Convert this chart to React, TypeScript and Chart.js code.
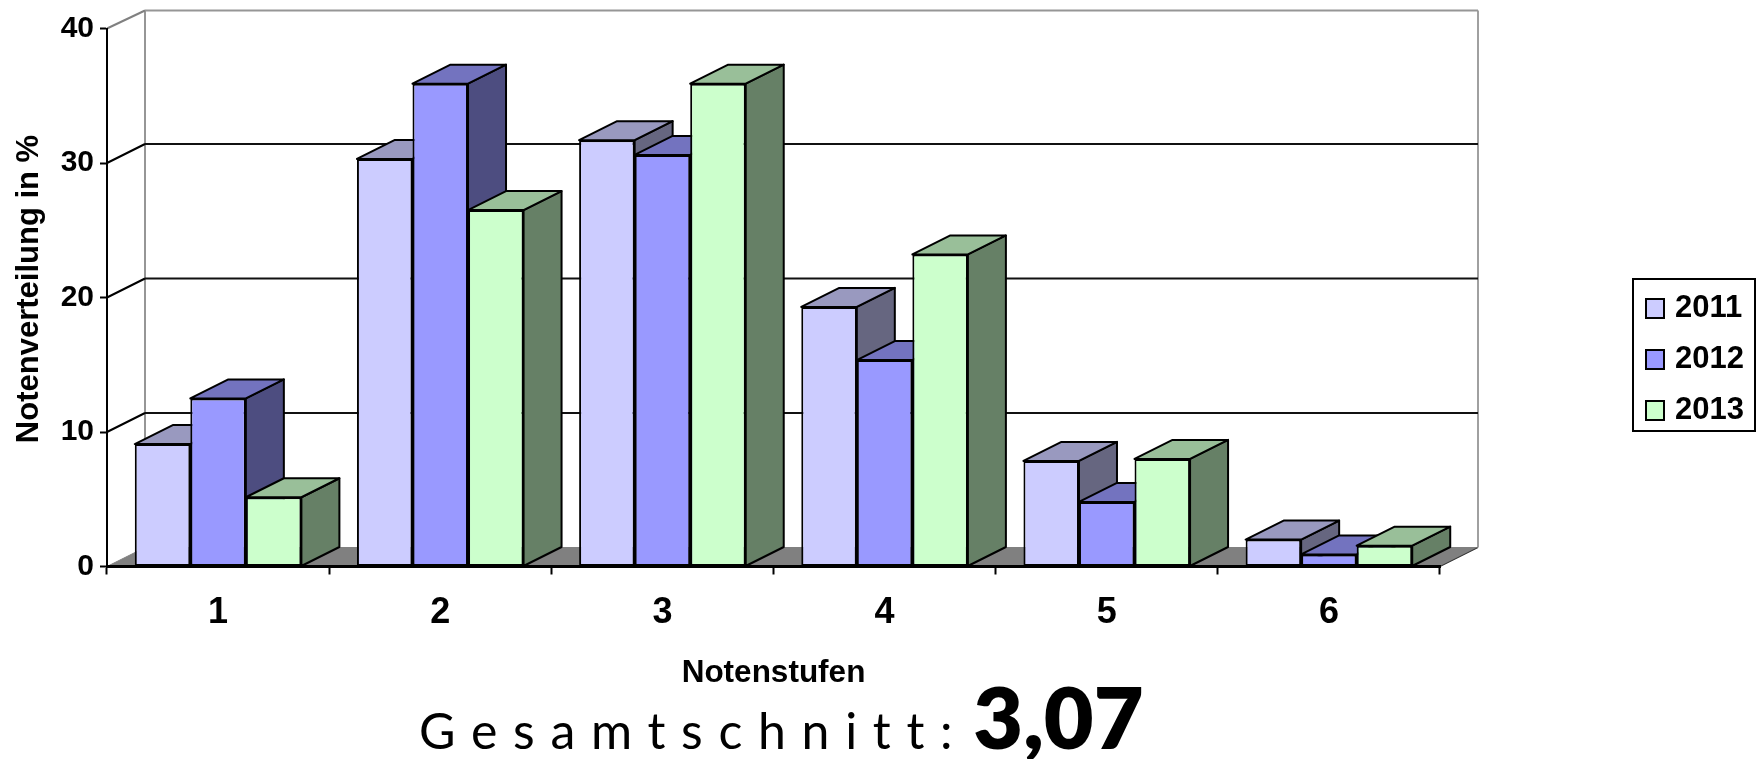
import React, { useEffect, useRef } from "react";
import { Chart, registerables } from "chart.js";

Chart.register(...registerables);

const categories = ["1", "2", "3", "4", "5", "6"];
const seriesNames = ["2011", "2012", "2013"];
const values2011 = [9.1, 30.3, 31.7, 19.3, 7.85, 2.0];
const values2012 = [12.5, 35.9, 30.6, 15.35, 4.8, 0.9];
const values2013 = [5.15, 26.5, 35.9, 23.2, 8.0, 1.55];
const yTicks = [0, 10, 20, 30, 40];

const frontColors = ["#CCCCFF", "#9999FF", "#CCFFCC"];
const topColors = ["#9999BF", "#7373BF", "#99BF99"];
const sideColors = ["#666680", "#4D4D80", "#668066"];

const DX = 38;
const DY = 19;
const FONT = "'Liberation Sans', Arial, sans-serif";

function makeSwatch(color: string) {
  const c = document.createElement("canvas");
  c.width = 20;
  c.height = 21;
  const g = c.getContext("2d")!;
  g.fillStyle = color;
  g.fillRect(0, 0, 20, 21);
  g.strokeStyle = "#000";
  g.lineWidth = 2;
  g.strokeRect(1, 1, 18, 19);
  return c;
}

function poly(ctx: CanvasRenderingContext2D, pts: number[][], fill: string, stroke = "#000", lw = 2) {
  ctx.beginPath();
  pts.forEach((p, i) => (i ? ctx.lineTo(p[0], p[1]) : ctx.moveTo(p[0], p[1])));
  ctx.closePath();
  ctx.fillStyle = fill;
  ctx.fill();
  ctx.strokeStyle = stroke;
  ctx.lineWidth = lw;
  ctx.lineJoin = "round";
  ctx.stroke();
}

function line(ctx: CanvasRenderingContext2D, x1: number, y1: number, x2: number, y2: number, color: string, lw = 2) {
  ctx.beginPath();
  ctx.moveTo(x1, y1);
  ctx.lineTo(x2, y2);
  ctx.strokeStyle = color;
  ctx.lineWidth = lw;
  ctx.stroke();
}

const wallsPlugin = {
  id: "walls3d",
  beforeLayout(chart: any) {
    // The legend sits in its own frame: it must not take room from the plot.
    const lg = chart.legend;
    if (lg && !lg.__patched) {
      const fit = lg.fit.bind(lg);
      lg.fit = () => {
        fit();
        lg.width = 0;
      };
      lg.__patched = true;
    }
  },
  afterLayout(chart: any) {
    const lg = chart.legend;
    if (!lg) return;
    lg.left = 1650.5 - 20;
    lg.right = 1764;
    lg.top = 273;
    lg.bottom = 500;
    lg.width = lg.right - lg.left;
    lg.height = lg.bottom - lg.top;
  },
  beforeDraw(chart: any) {
    const { ctx, chartArea: a, scales } = chart;
    const y = scales.y;
    const base = y.getPixelForValue(0);
    const top = y.getPixelForValue(40);
    ctx.save();
    poly(ctx, [[a.left, base], [a.left + DX, base - DY], [a.right + DX, base - DY], [a.right, base]], "#808080", "#808080", 1);
    line(ctx, a.right, base, a.right + DX, base - DY, "#333", 1);
    line(ctx, a.left + DX, top - DY + 1, a.left + DX, base - DY, "#969696", 2);
    line(ctx, a.right + DX, top - DY + 1, a.right + DX, base - DY, "#A0A0A0", 2);
    line(ctx, a.left, top, a.left + DX, top - DY + 1, "#808080", 2);
    line(ctx, a.left + DX, top - DY + 1, a.right + DX, top - DY + 1, "#969696", 2);
    yTicks.filter((t) => t > 0 && t < 40).forEach((t) => {
      const py = y.getPixelForValue(t);
      line(ctx, a.left, py, a.left + DX, py - DY, "#000", 2);
      line(ctx, a.left + DX, py - DY, a.right + DX, py - DY, "#111", 2);
    });
    ctx.translate(29, 289);
    ctx.rotate(-Math.PI / 2);
    ctx.font = `bold 31px ${FONT}`;
    ctx.fillStyle = "#000";
    ctx.textAlign = "center";
    ctx.textBaseline = "middle";
    ctx.fillText("Notenverteilung in %", 0, 0);
    ctx.restore();
  },
  beforeDatasetsDraw(chart: any) {
    const { ctx } = chart;
    ctx.save();
    ctx.strokeStyle = "#000";
    ctx.lineWidth = 2;
    ctx.strokeRect(1633, 279, 122, 152);
    ctx.restore();
    // Left-to-right painting, so each bar covers the side face of the one before it.
    seriesNames.forEach((_, i) => {
      const meta = chart.getDatasetMeta(i);
      ctx.save();
      meta.data.forEach((bar: any) => {
        const l = bar.x - bar.width / 2;
        const r = bar.x + bar.width / 2;
        poly(ctx, [[r, bar.y], [r + DX, bar.y - DY], [r + DX, bar.base - DY], [r, bar.base]], sideColors[i]);
        poly(ctx, [[l, bar.y], [l + DX, bar.y - DY], [r + DX, bar.y - DY], [r, bar.y]], topColors[i]);
      });
      ctx.restore();
      meta.data.forEach((bar: any) => bar.draw(ctx));
    });
    return false;
  },
};

export default function App() {
  const ref = useRef<HTMLCanvasElement>(null);
  useEffect(() => {
    const data = [values2011, values2012, values2013];
    const swatches = frontColors.map(makeSwatch);
    const chart = new Chart(ref.current!, {
      type: "bar",
      data: {
        labels: categories,
        datasets: seriesNames.map((name, i) => ({
          label: name,
          data: data[i],
          backgroundColor: frontColors[i],
          borderColor: "#000",
          borderWidth: 2,
          borderSkipped: false,
          categoryPercentage: 0.75,
          barPercentage: 1,
        })),
      },
      options: {
        animation: false,
        responsive: false,
        devicePixelRatio: 1,
        layout: { padding: { left: 0, top: 28.5, right: 324, bottom: 0 } },
        plugins: {
          tooltip: { enabled: false },
          legend: {
            display: true,
            position: "right",
            align: "start",
            labels: {
              usePointStyle: true,
              pointStyleWidth: 9,
              padding: 20,
              color: "#000",
              font: { family: FONT, weight: "bold", size: 31 },
              generateLabels: () =>
                seriesNames.map((name, i) => ({
                  text: name,
                  fillStyle: frontColors[i],
                  strokeStyle: "#000",
                  lineWidth: 2,
                  pointStyle: swatches[i],
                  datasetIndex: i,
                  hidden: false,
                })),
            },
          },
        },
        scales: {
          x: {
            type: "category",
            afterFit: (s: any) => {
              s.height = 192.5;
            },
            grid: { drawOnChartArea: false, color: "#000", tickLength: 8, tickWidth: 2, offset: true },
            border: { color: "#000", width: 3, z: 1 },
            ticks: { color: "#000", padding: 17, maxRotation: 0, font: { family: FONT, weight: "bold", size: 36 } },
            title: {
              display: true,
              text: "Notenstufen",
              color: "#000",
              font: { family: FONT, weight: "bold", size: 31.5 },
              padding: { top: 0, bottom: 67 },
            },
          },
          y: {
            type: "linear",
            min: 0,
            max: 40,
            afterFit: (s: any) => {
              s.width = 107;
            },
            afterBuildTicks: (s: any) => {
              s.ticks = yTicks.map((value) => ({ value }));
            },
            grid: { drawOnChartArea: false, color: "#000", tickLength: 7, tickWidth: 2 },
            border: { color: "#000", width: 2 },
            ticks: { color: "#000", padding: 6, font: { family: FONT, weight: "bold", size: 30 } },
          },
        },
      },
      plugins: [wallsPlugin],
    } as any);
    return () => chart.destroy();
  }, []);

  return (
    <div style={{ position: "fixed", left: 0, top: 0, width: 1764, height: 759, background: "#fff", overflow: "hidden" }}>
      <canvas ref={ref} width={1764} height={759} style={{ display: "block", width: 1764, height: 759 }} />
      <div
        style={{
          position: "absolute",
          left: 419,
          top: 666,
          whiteSpace: "nowrap",
          fontFamily: "Lato, sans-serif",
          color: "#000",
          lineHeight: "100px",
        }}
      >
        <span style={{ fontSize: 50, letterSpacing: "15.7px" }}>Gesamtschnitt:</span>
        <span style={{ fontSize: 86, fontWeight: 800, marginLeft: 5 }}>3,07</span>
      </div>
    </div>
  );
}
